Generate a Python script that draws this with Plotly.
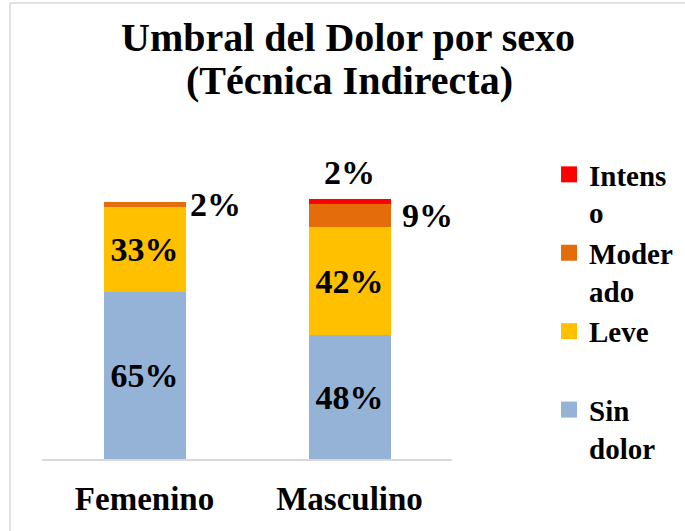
import plotly.graph_objects as go

categories = ["Femenino", "Masculino"]
series_names = ["Sin<br>dolor", "Leve<br>\u00a0", "Moder<br>ado", "Intens<br>o"]
sin_dolor = [65, 48]
leve = [33, 42]
moderado = [2, 9]
intenso = [0, 2]
colors = ["#95B3D7", "#FFC000", "#E46C0A", "#FF0000"]

FONT = "Liberation Serif"

fig = go.Figure()
values = [sin_dolor, leve, moderado, intenso]
for name, vals, col in zip(series_names, values, colors):
    inside = vals is sin_dolor or vals is leve
    fig.add_trace(go.Bar(
        x=categories, y=vals, name=name, marker=dict(color=col, line=dict(width=0)),
        width=0.40, showlegend=False,
        text=[f"{v}%" for v in vals] if inside else None,
        textposition="inside" if inside else "none",
        insidetextanchor="middle",
        textfont=dict(family=FONT, size=34, color="black", weight="bold"),
        constraintext="none",
    ))

# legend entries (top to bottom: Intenso, Moderado, Leve, Sin dolor)
for name, col in reversed(list(zip(series_names, colors))):
    fig.add_trace(go.Scatter(
        x=[None], y=[None], mode="markers", name=name,
        marker=dict(symbol="square", size=17, color=col, line=dict(width=0)),
        hoverinfo="skip",
    ))

annotations = []
cum_mod = [s + l for s, l in zip(sin_dolor, leve)]
for i, cat in enumerate(categories):
    if moderado[i] > 0:
        annotations.append(dict(
            x=cat, y=cum_mod[i] + moderado[i] / 2, xref="x", yref="y",
            text=f"{moderado[i]}%", showarrow=False,
            xshift=71 if i == 0 else 78,
            font=dict(family=FONT, size=34, color="black", weight="bold"),
        ))
    if intenso[i] > 0:
        annotations.append(dict(
            x=cat, y=cum_mod[i] + moderado[i] + intenso[i], xref="x", yref="y",
            text=f"{intenso[i]}%", showarrow=False, yshift=26,
            font=dict(family=FONT, size=34, color="black", weight="bold"),
        ))

annotations.append(dict(x=0.7463, y=1.3625, xref="paper", yref="paper",
                        xanchor="center", yanchor="middle",
                        text="Umbral del Dolor por sexo", showarrow=False,
                        font=dict(family=FONT, size=40, color="black", weight="bold")))
annotations.append(dict(x=0.7488, y=1.2265, xref="paper", yref="paper",
                        xanchor="center", yanchor="middle",
                        text="(Técnica Indirecta)", showarrow=False,
                        font=dict(family=FONT, size=40, color="black", weight="bold")))

fig.update_layout(
    width=685, height=531,
    margin=dict(l=42, r=233, t=150, b=72),
    barmode="stack",
    paper_bgcolor="white", plot_bgcolor="white",
    showlegend=True,
    legend=dict(x=0.8015, y=0.7194, xref="container", yref="container",
                xanchor="left", yanchor="top",
                traceorder="normal", valign="top", maxheight=500,
                itemsizing="trace",
                font=dict(family=FONT, size=29, color="black", weight="bold"),
                tracegroupgap=0),
    xaxis=dict(showline=True, linecolor="#D9D9D9", linewidth=1.5, ticks="",
               tickfont=dict(family=FONT, size=33, color="black", weight="bold"),
               showgrid=False, zeroline=False, ticklabelstandoff=10,
               range=[-0.5, 1.5]),
    yaxis=dict(range=[0, 120], visible=False, showgrid=False, zeroline=False),
    annotations=annotations,
    shapes=[
        dict(type="line", xref="paper", yref="paper", x0=-0.078, x1=-0.078,
             y0=-0.5, y1=1.4757, line=dict(color="#D9D9D9", width=1.5)),
        dict(type="line", xref="paper", yref="paper", x0=-0.078, x1=2.0,
             y0=1.4757, y1=1.4757, line=dict(color="#D9D9D9", width=1.5)),
    ],
)

fig.write_html("out.html", post_script="document.body.style.margin='0';",
               config={"displayModeBar": False})
